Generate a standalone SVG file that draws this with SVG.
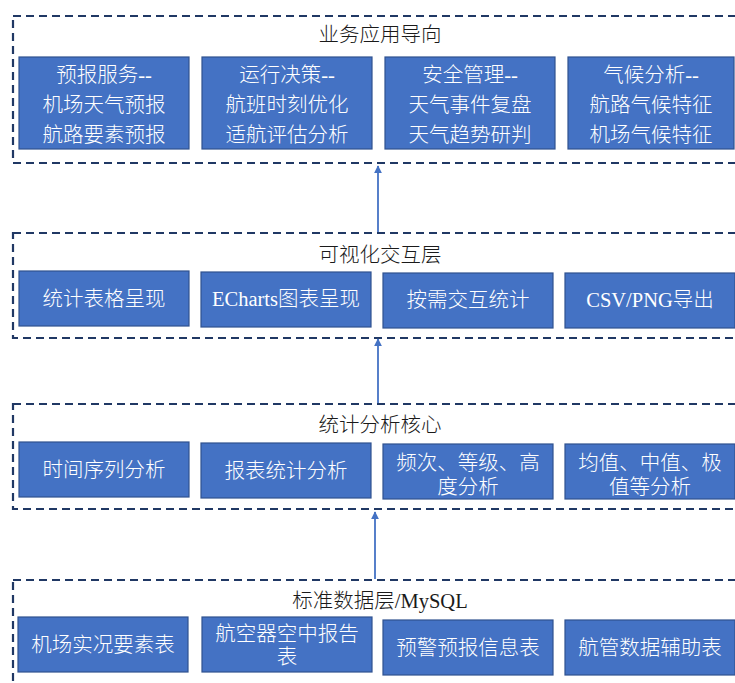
<svg xmlns="http://www.w3.org/2000/svg" width="735" height="683" viewBox="0 0 735 683">
<defs>
<style>
.layer{fill:none;stroke:#203864;stroke-width:2.2;stroke-dasharray:8 5}
.box{fill:#4472C4;stroke:#2F528F;stroke-width:1.2}
.t{font-family:"Liberation Serif","Noto Sans CJK SC",serif;font-size:20.5px;font-weight:300;fill:#ffffff;text-anchor:middle;dominant-baseline:central}
.title{font-family:"Liberation Serif","Noto Sans CJK SC",serif;font-size:20.5px;font-weight:300;fill:#1a1a1a;text-anchor:middle;dominant-baseline:central}
.conn{stroke:#4472C4;stroke-width:1.8;fill:none}
</style>
<marker id="ah" viewBox="0 0 10 10" refX="9" refY="5" markerWidth="4.5" markerHeight="4.5" orient="auto">
<path d="M0,0 L10,5 L0,10 z" fill="#4472C4"/>
</marker>
</defs>
<rect width="735" height="683" fill="#ffffff"/>

<g id="layer-business">
<rect class="layer" x="13" y="16" width="730" height="147"/>
<text class="title" x="380" y="35">业务应用导向</text>
<g id="n-forecast"><rect class="box" x="19" y="57" width="170" height="92"/>
<text class="t" x="104" y="75">预报服务--</text><text class="t" x="104" y="105">机场天气预报</text><text class="t" x="104" y="135">航路要素预报</text></g>
<g id="n-ops"><rect class="box" x="202" y="57" width="170" height="92"/>
<text class="t" x="287" y="75">运行决策--</text><text class="t" x="287" y="105">航班时刻优化</text><text class="t" x="287" y="135">适航评估分析</text></g>
<g id="n-safety"><rect class="box" x="385" y="57" width="170" height="92"/>
<text class="t" x="470" y="75">安全管理--</text><text class="t" x="470" y="105">天气事件复盘</text><text class="t" x="470" y="135">天气趋势研判</text></g>
<g id="n-climate"><rect class="box" x="568" y="57" width="166" height="92"/>
<text class="t" x="651" y="75">气候分析--</text><text class="t" x="651" y="105">航路气候特征</text><text class="t" x="651" y="135">机场气候特征</text></g>
</g>

<g id="layer-visual">
<rect class="layer" x="13" y="233" width="730" height="105"/>
<text class="title" x="380" y="255">可视化交互层</text>
<g id="n-table"><rect class="box" x="19" y="271" width="170" height="55"/><text class="t" x="104" y="299">统计表格呈现</text></g>
<g id="n-echarts"><rect class="box" x="201" y="272" width="170" height="55"/><text class="t" x="286" y="299">ECharts图表呈现</text></g>
<g id="n-interactive"><rect class="box" x="383" y="273" width="170" height="55"/><text class="t" x="468" y="300">按需交互统计</text></g>
<g id="n-export"><rect class="box" x="565" y="273" width="170" height="55"/><text class="t" x="650" y="300">CSV/PNG导出</text></g>
</g>

<g id="layer-stats">
<rect class="layer" x="13" y="404" width="730" height="105"/>
<text class="title" x="380" y="425">统计分析核心</text>
<g id="n-timeseries"><rect class="box" x="19" y="442" width="170" height="55"/><text class="t" x="104" y="470">时间序列分析</text></g>
<g id="n-report"><rect class="box" x="201" y="443" width="170" height="55"/><text class="t" x="286" y="471">报表统计分析</text></g>
<g id="n-freq"><rect class="box" x="383" y="444" width="170" height="55"/><text class="t" x="468" y="463">频次、等级、高</text><text class="t" x="468" y="487">度分析</text></g>
<g id="n-mean"><rect class="box" x="565" y="444" width="170" height="55"/><text class="t" x="650" y="463">均值、中值、极</text><text class="t" x="650" y="487">值等分析</text></g>
</g>

<g id="layer-data">
<rect class="layer" x="13" y="580" width="730" height="120"/>
<text class="title" x="380" y="601">标准数据层/MySQL</text>
<g id="n-airport"><rect class="box" x="18" y="617" width="170" height="55"/><text class="t" x="103" y="645">机场实况要素表</text></g>
<g id="n-aircraft"><rect class="box" x="202" y="617" width="170" height="55"/><text class="t" x="287" y="634">航空器空中报告</text><text class="t" x="287" y="657">表</text></g>
<g id="n-warning"><rect class="box" x="383" y="620" width="170" height="55"/><text class="t" x="468" y="648">预警预报信息表</text></g>
<g id="n-atm"><rect class="box" x="565" y="620" width="170" height="55"/><text class="t" x="650" y="648">航管数据辅助表</text></g>
</g>

<g id="connectors">
<line class="conn" x1="378" y1="232" x2="378" y2="166" marker-end="url(#ah)"/>
<line class="conn" x1="378" y1="403" x2="378" y2="339" marker-end="url(#ah)"/>
<line class="conn" x1="375" y1="579" x2="375" y2="512" marker-end="url(#ah)"/>
</g>
</svg>
